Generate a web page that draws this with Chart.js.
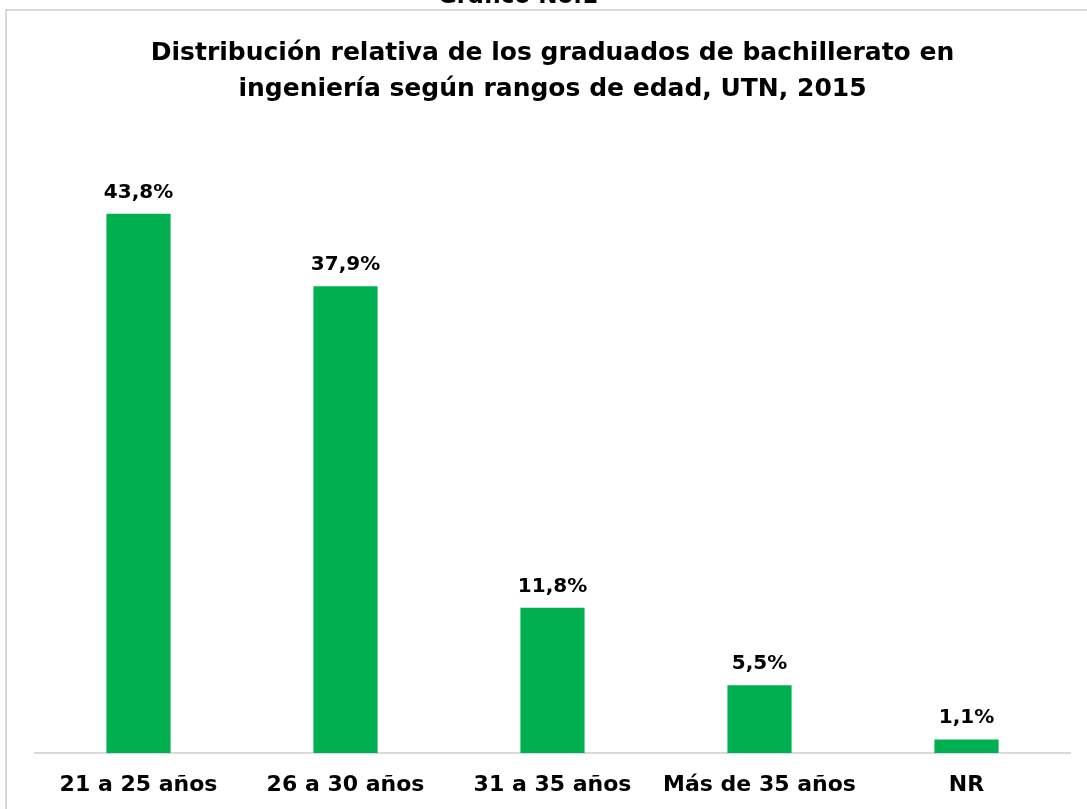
<!DOCTYPE html>
<html>
<head>
<meta charset="utf-8">
<script src="https://cdn.jsdelivr.net/npm/chart.js@4/dist/chart.umd.min.js"></script>
<style>
html,body{margin:0;padding:0;background:#fff;}
#wrap{width:1087px;height:809px;position:relative;}
</style>
</head>
<body>
<div id="wrap"><canvas id="c" width="1087" height="809"></canvas></div>
<script>
const categories = ["21 a 25 años", "26 a 30 años", "31 a 35 años", "Más de 35 años", "NR"];
const values = [43.8, 37.9, 11.8, 5.5, 1.1];
const valueLabels = ["43,8%", "37,9%", "11,8%", "5,5%", "1,1%"];
const titleLines = ["Distribución relativa de los graduados de bachillerato en", "ingeniería según rangos de edad, UTN, 2015"];
const supTitle = "Gráfico No.1";

const FONT = "'DejaVu Sans', sans-serif";

const framePlugin = {
  id: 'frame',
  beforeDraw(chart) {
    const ctx = chart.ctx;
    ctx.save();
    ctx.fillStyle = '#fff';
    ctx.fillRect(0, 0, chart.width, chart.height);
    ctx.strokeStyle = '#d9d9d9';
    ctx.lineWidth = 2;
    ctx.beginPath();
    ctx.moveTo(6, chart.height + 2);
    ctx.lineTo(6, 10);
    ctx.lineTo(chart.width + 2, 10);
    ctx.stroke();
    ctx.fillStyle = '#000';
    ctx.font = "bold 23px " + FONT;
    ctx.textAlign = 'center';
    ctx.textBaseline = 'alphabetic';
    ctx.fillText(supTitle, 518, 3);
    ctx.restore();
  }
};

const valueLabelPlugin = {
  id: 'valueLabels',
  afterDatasetsDraw(chart) {
    const ctx = chart.ctx;
    const meta = chart.getDatasetMeta(0);
    ctx.save();
    ctx.fillStyle = '#000';
    ctx.font = "bold 20px " + FONT;
    ctx.textAlign = 'center';
    ctx.textBaseline = 'alphabetic';
    meta.data.forEach((bar, i) => {
      ctx.fillText(valueLabels[i], bar.x, bar.y - 16);
    });
    ctx.restore();
  }
};

new Chart(document.getElementById('c'), {
  type: 'bar',
  data: {
    labels: categories,
    datasets: [{
      data: values,
      backgroundColor: '#00B050',
      borderWidth: 0,
      barPercentage: 0.62,
      categoryPercentage: 0.5
    }]
  },
  options: {
    responsive: false,
    animation: false,
    devicePixelRatio: 1,
    layout: { padding: { left: 35, right: 17, top: 0, bottom: 0 } },
    plugins: {
      legend: { display: false },
      tooltip: { enabled: false },
      title: {
        display: true,
        text: titleLines,
        color: '#000',
        font: { family: FONT, size: 25, weight: 'bold', lineHeight: 1.44 },
        padding: { top: 35, bottom: 55 }
      }
    },
    scales: {
      x: {
        grid: { display: false, drawTicks: false },
        border: { display: true, color: '#d9d9d9', width: 2 },
        ticks: { color: '#000', font: { family: FONT, size: 22, weight: 'bold' }, padding: 19, maxRotation: 0 },
        afterFit(scale) { scale.height = 56; }
      },
      y: {
        display: false,
        min: 0,
        max: 48
      }
    }
  },
  plugins: [framePlugin, valueLabelPlugin]
});
</script>
</body>
</html>
